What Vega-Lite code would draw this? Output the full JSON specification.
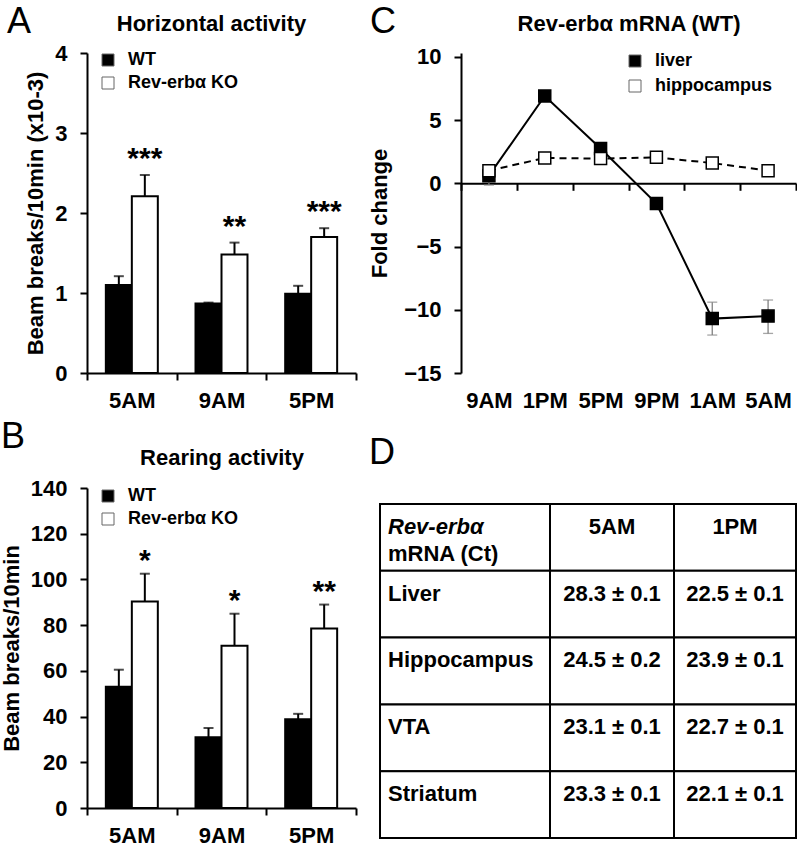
{
  "$schema": "https://vega.github.io/schema/vega-lite/v6.json",
  "background": "white",
  "padding": {"left": 0, "top": 4, "right": 0, "bottom": 0},
  "bounds": "flush",
  "spacing": 435,
  "resolve": {"scale": {"fill": "independent"}, "legend": {"fill": "independent"}},
  "datasets": {
    "tbl": [
      {"row": "h", "c1": "Rev-erbα", "c1b": "mRNA (Ct)", "am": "5AM", "pm": "1PM"},
      {"row": "Liver", "c1": "Liver", "am": "28.3 ± 0.1", "pm": "22.5 ± 0.1"},
      {"row": "Hippocampus", "c1": "Hippocampus", "am": "24.5 ± 0.2", "pm": "23.9 ± 0.1"},
      {"row": "VTA", "c1": "VTA", "am": "23.1 ± 0.1", "pm": "22.7 ± 0.1"},
      {"row": "Striatum", "c1": "Striatum", "am": "23.3 ± 0.1", "pm": "22.1 ± 0.1"}
    ]
  },
  "vconcat": [
    {
      "bounds": "flush",
      "spacing": 105,
      "resolve": {"scale": {"fill": "independent"}, "legend": {"fill": "independent"}},
      "hconcat": [
        {
          "width": 269,
          "height": 320,
          "title": {"text": "A", "frame": "group", "dx": -80, "dy": 33},
          "data": {"values": [
            {"t": "5AM", "g": "WT", "v": 1.10, "hi": 1.21},
            {"t": "5AM", "g": "Rev-erbα KO", "v": 2.21, "hi": 2.475, "s": "***"},
            {"t": "9AM", "g": "WT", "v": 0.87, "hi": 0.88},
            {"t": "9AM", "g": "Rev-erbα KO", "v": 1.48, "hi": 1.63, "s": "**"},
            {"t": "5PM", "g": "WT", "v": 0.99, "hi": 1.09},
            {"t": "5PM", "g": "Rev-erbα KO", "v": 1.70, "hi": 1.81, "s": "***"}
          ]},
          "layer": [
            {
              "mark": {"type": "bar", "stroke": "black", "strokeWidth": 2},
              "encoding": {
                "x": {"field": "t", "type": "nominal", "sort": ["5AM", "9AM", "5PM"], "scale": {"type": "band", "paddingInner": 0, "paddingOuter": 0}, "axis": {"title": null}},
                "xOffset": {"field": "g", "type": "nominal", "sort": ["WT", "Rev-erbα KO"], "scale": {"paddingInner": 0, "paddingOuter": 0.725}},
                "y": {"field": "v", "type": "quantitative", "scale": {"domain": [0, 4], "nice": false}, "axis": {"values": [0, 1, 2, 3, 4], "format": "d", "title": "Beam breaks/10min (x10-3)"}},
                "fill": {"field": "g", "type": "nominal", "sort": ["WT", "Rev-erbα KO"], "scale": {"domain": ["WT", "Rev-erbα KO"], "range": ["black", "white"]}, "legend": {"title": null, "legendX": 12, "legendY": -2}}
              }
            },
            {
              "mark": {"type": "rule", "color": "black", "strokeWidth": 2},
              "encoding": {
                "x": {"field": "t", "type": "nominal", "sort": ["5AM", "9AM", "5PM"], "axis": null},
                "xOffset": {"field": "g", "type": "nominal", "sort": ["WT", "Rev-erbα KO"]},
                "y": {"field": "v", "type": "quantitative"},
                "y2": {"field": "hi"}
              }
            },
            {
              "mark": {"type": "tick", "color": "black", "size": 10, "thickness": 2},
              "encoding": {
                "x": {"field": "t", "type": "nominal", "sort": ["5AM", "9AM", "5PM"], "axis": null},
                "xOffset": {"field": "g", "type": "nominal", "sort": ["WT", "Rev-erbα KO"]},
                "y": {"field": "hi", "type": "quantitative"}
              }
            },
            {
              "transform": [{"filter": "datum.s"}],
              "mark": {"type": "text", "fontSize": 30, "fontWeight": "bold", "baseline": "alphabetic", "dy": -7, "color": "black"},
              "encoding": {
                "x": {"field": "t", "type": "nominal", "sort": ["5AM", "9AM", "5PM"], "axis": {"orient": "top", "title": "Horizontal activity", "titleX": 124, "labels": false, "ticks": false, "domain": false, "titlePadding": 18}},
                "xOffset": {"field": "g", "type": "nominal", "sort": ["WT", "Rev-erbα KO"]},
                "y": {"field": "hi", "type": "quantitative"},
                "text": {"field": "s"}
              }
            }
          ],
          "resolve": {"axis": {"x": "independent"}}
        },
        {
          "width": 335,
          "height": 320,
          "title": {"text": "C", "frame": "group", "dx": -91, "dy": 33},
          "data": {"values": [
            {"t": "9AM", "o": 1, "tissue": "liver", "v": 0.6, "lo": -0.15, "hi": 1.35},
            {"t": "1PM", "o": 2, "tissue": "liver", "v": 6.9},
            {"t": "5PM", "o": 3, "tissue": "liver", "v": 2.75},
            {"t": "9PM", "o": 4, "tissue": "liver", "v": -1.6},
            {"t": "1AM", "o": 5, "tissue": "liver", "v": -10.7, "lo": -12.0, "hi": -9.4},
            {"t": "5AM", "o": 6, "tissue": "liver", "v": -10.5, "lo": -11.87, "hi": -9.23},
            {"t": "9AM", "o": 1, "tissue": "hippocampus", "v": 1.0},
            {"t": "1PM", "o": 2, "tissue": "hippocampus", "v": 2.0},
            {"t": "5PM", "o": 3, "tissue": "hippocampus", "v": 1.95},
            {"t": "9PM", "o": 4, "tissue": "hippocampus", "v": 2.05},
            {"t": "1AM", "o": 5, "tissue": "hippocampus", "v": 1.6},
            {"t": "5AM", "o": 6, "tissue": "hippocampus", "v": 1.0}
          ]},
          "layer": [
            {
              "transform": [{"filter": "isValid(datum.lo)"}],
              "mark": {"type": "rule", "color": "#808080", "strokeWidth": 1.3},
              "encoding": {
                "x": {"field": "t", "type": "nominal", "sort": ["9AM", "1PM", "5PM", "9PM", "1AM", "5AM"], "bandPosition": 0.5, "axis": null},
                "y": {"field": "lo", "type": "quantitative"},
                "y2": {"field": "hi"}
              }
            },
            {
              "transform": [{"filter": "isValid(datum.lo)"}],
              "mark": {"type": "tick", "color": "#808080", "size": 10, "thickness": 1.3},
              "encoding": {
                "x": {"field": "t", "type": "nominal", "sort": ["9AM", "1PM", "5PM", "9PM", "1AM", "5AM"], "axis": null},
                "y": {"field": "lo", "type": "quantitative"}
              }
            },
            {
              "transform": [{"filter": "isValid(datum.lo)"}],
              "mark": {"type": "tick", "color": "#808080", "size": 10, "thickness": 1.3},
              "encoding": {
                "x": {"field": "t", "type": "nominal", "sort": ["9AM", "1PM", "5PM", "9PM", "1AM", "5AM"], "axis": null},
                "y": {"field": "hi", "type": "quantitative"}
              }
            },
            {
              "transform": [{"filter": "datum.tissue == 'liver'"}],
              "mark": {"type": "line", "color": "black", "strokeWidth": 2},
              "encoding": {
                "x": {"field": "t", "type": "nominal", "sort": ["9AM", "1PM", "5PM", "9PM", "1AM", "5AM"], "bandPosition": 0.5, "scale": {"type": "band", "paddingInner": 0, "paddingOuter": 0}, "axis": {"title": null, "offset": -189.7, "labelPadding": 200}},
                "y": {"field": "v", "type": "quantitative", "scale": {"domain": [-15, 10.3], "nice": false, "zero": false}, "axis": {"values": [-15, -10, -5, 0, 5, 10], "title": "Fold change", "titlePadding": 12}},
                "order": {"field": "o", "type": "quantitative"}
              }
            },
            {
              "transform": [{"filter": "datum.tissue == 'hippocampus'"}],
              "mark": {"type": "line", "color": "black", "strokeWidth": 2, "strokeDash": [7, 5]},
              "encoding": {
                "x": {"field": "t", "type": "nominal", "sort": ["9AM", "1PM", "5PM", "9PM", "1AM", "5AM"], "bandPosition": 0.5, "axis": null},
                "y": {"field": "v", "type": "quantitative"},
                "order": {"field": "o", "type": "quantitative"}
              }
            },
            {
              "mark": {"type": "point", "shape": "square", "filled": true, "size": 144, "stroke": "black", "strokeWidth": 1.5, "opacity": 1},
              "encoding": {
                "x": {"field": "t", "type": "nominal", "sort": ["9AM", "1PM", "5PM", "9PM", "1AM", "5AM"], "bandPosition": 0.5, "axis": {"orient": "top", "title": "Rev-erbα mRNA (WT)", "labels": false, "ticks": false, "domain": false, "titlePadding": 18}},
                "y": {"field": "v", "type": "quantitative"},
                "fill": {"field": "tissue", "type": "nominal", "sort": ["liver", "hippocampus"], "scale": {"domain": ["liver", "hippocampus"], "range": ["black", "white"]}, "legend": {"title": null, "legendX": 165, "legendY": -1, "rowPadding": 7}}
              }
            }
          ],
          "resolve": {"axis": {"x": "independent"}}
        }
      ]
    },
    {
      "bounds": "flush",
      "spacing": 24,
      "resolve": {"scale": {"fill": "independent"}, "legend": {"fill": "independent"}},
      "hconcat": [
        {
          "width": 269,
          "height": 320,
          "title": {"text": "B", "frame": "group", "dx": -86, "dy": 14},
          "data": {"values": [
            {"t": "5AM", "g": "WT", "v": 53.0, "hi": 60.5},
            {"t": "5AM", "g": "Rev-erbα KO", "v": 90.3, "hi": 102.5, "s": "*"},
            {"t": "9AM", "g": "WT", "v": 31.0, "hi": 35.0},
            {"t": "9AM", "g": "Rev-erbα KO", "v": 71.0, "hi": 85.0, "s": "*"},
            {"t": "5PM", "g": "WT", "v": 38.8, "hi": 41.2},
            {"t": "5PM", "g": "Rev-erbα KO", "v": 78.5, "hi": 89.0, "s": "**"}
          ]},
          "layer": [
            {
              "mark": {"type": "bar", "stroke": "black", "strokeWidth": 2},
              "encoding": {
                "x": {"field": "t", "type": "nominal", "sort": ["5AM", "9AM", "5PM"], "scale": {"type": "band", "paddingInner": 0, "paddingOuter": 0}, "axis": {"title": null}},
                "xOffset": {"field": "g", "type": "nominal", "sort": ["WT", "Rev-erbα KO"], "scale": {"paddingInner": 0, "paddingOuter": 0.725}},
                "y": {"field": "v", "type": "quantitative", "scale": {"domain": [0, 140], "nice": false}, "axis": {"values": [0, 20, 40, 60, 80, 100, 120, 140], "title": "Beam breaks/10min"}},
                "fill": {"field": "g", "type": "nominal", "sort": ["WT", "Rev-erbα KO"], "scale": {"domain": ["WT", "Rev-erbα KO"], "range": ["black", "white"]}, "legend": {"title": null, "legendX": 12, "legendY": -1}}
              }
            },
            {
              "mark": {"type": "rule", "color": "black", "strokeWidth": 2},
              "encoding": {
                "x": {"field": "t", "type": "nominal", "sort": ["5AM", "9AM", "5PM"], "axis": null},
                "xOffset": {"field": "g", "type": "nominal", "sort": ["WT", "Rev-erbα KO"]},
                "y": {"field": "v", "type": "quantitative"},
                "y2": {"field": "hi"}
              }
            },
            {
              "mark": {"type": "tick", "color": "black", "size": 10, "thickness": 2},
              "encoding": {
                "x": {"field": "t", "type": "nominal", "sort": ["5AM", "9AM", "5PM"], "axis": null},
                "xOffset": {"field": "g", "type": "nominal", "sort": ["WT", "Rev-erbα KO"]},
                "y": {"field": "hi", "type": "quantitative"}
              }
            },
            {
              "transform": [{"filter": "datum.s"}],
              "mark": {"type": "text", "fontSize": 30, "fontWeight": "bold", "baseline": "alphabetic", "dy": -4, "color": "black"},
              "encoding": {
                "x": {"field": "t", "type": "nominal", "sort": ["5AM", "9AM", "5PM"], "axis": {"orient": "top", "title": "Rearing activity", "labels": false, "ticks": false, "domain": false, "titlePadding": 19}},
                "xOffset": {"field": "g", "type": "nominal", "sort": ["WT", "Rev-erbα KO"]},
                "y": {"field": "hi", "type": "quantitative"},
                "text": {"field": "s"}
              }
            }
          ],
          "resolve": {"axis": {"x": "independent"}}
        },
        {
          "title": {"text": "D", "frame": "group", "dx": -11, "dy": -12},
          "bounds": "flush",
          "spacing": 0,
          "hconcat": [
            {
              "width": 170,
              "height": 350,
              "data": {"name": "tbl"},
              "layer": [
                {
                  "mark": {"type": "rect", "fill": "white", "stroke": "black", "strokeWidth": 2},
                  "encoding": {"y": {"field": "row", "type": "nominal", "scale": {"domain": ["h", "Liver", "Hippocampus", "VTA", "Striatum"], "paddingInner": 0, "paddingOuter": 0.12, "align": 1}, "axis": null}}
                },
                {
                  "transform": [{"filter": "datum.row == 'h'"}],
                  "mark": {"type": "text", "fontSize": 22, "fontWeight": "bold", "fontStyle": "italic", "align": "left", "baseline": "middle", "dx": -77, "color": "black"},
                  "encoding": {"y": {"field": "row", "type": "nominal", "bandPosition": 0.34}, "text": {"field": "c1"}}
                },
                {
                  "transform": [{"filter": "datum.row == 'h'"}],
                  "mark": {"type": "text", "fontSize": 22, "fontWeight": "bold", "align": "left", "baseline": "middle", "dx": -77, "color": "black"},
                  "encoding": {"y": {"field": "row", "type": "nominal", "bandPosition": 0.75}, "text": {"field": "c1b"}}
                },
                {
                  "transform": [{"filter": "datum.row != 'h'"}],
                  "mark": {"type": "text", "fontSize": 22, "fontWeight": "bold", "align": "left", "baseline": "middle", "dx": -77, "color": "black"},
                  "encoding": {"y": {"field": "row", "type": "nominal", "bandPosition": 0.34}, "text": {"field": "c1"}}
                }
              ]
            },
            {
              "width": 124,
              "height": 350,
              "data": {"name": "tbl"},
              "layer": [
                {
                  "mark": {"type": "rect", "fill": "white", "stroke": "black", "strokeWidth": 2},
                  "encoding": {"y": {"field": "row", "type": "nominal", "scale": {"domain": ["h", "Liver", "Hippocampus", "VTA", "Striatum"], "paddingInner": 0, "paddingOuter": 0.12, "align": 1}, "axis": null}}
                },
                {
                  "mark": {"type": "text", "fontSize": 22, "fontWeight": "bold", "align": "center", "baseline": "middle", "color": "black"},
                  "encoding": {"y": {"field": "row", "type": "nominal", "bandPosition": 0.34}, "text": {"field": "am"}}
                }
              ]
            },
            {
              "width": 122,
              "height": 350,
              "data": {"name": "tbl"},
              "layer": [
                {
                  "mark": {"type": "rect", "fill": "white", "stroke": "black", "strokeWidth": 2},
                  "encoding": {"y": {"field": "row", "type": "nominal", "scale": {"domain": ["h", "Liver", "Hippocampus", "VTA", "Striatum"], "paddingInner": 0, "paddingOuter": 0.12, "align": 1}, "axis": null}}
                },
                {
                  "mark": {"type": "text", "fontSize": 22, "fontWeight": "bold", "align": "center", "baseline": "middle", "color": "black"},
                  "encoding": {"y": {"field": "row", "type": "nominal", "bandPosition": 0.34}, "text": {"field": "pm"}}
                }
              ]
            }
          ]
        }
      ]
    }
  ],
  "config": {
    "font": "Liberation Sans",
    "view": {"stroke": null},
    "axis": {"domainColor": "black", "domainWidth": 2, "tickColor": "black", "tickWidth": 2, "tickSize": 7, "labelColor": "black", "labelFont": "Liberation Sans", "labelFontSize": 22, "labelFontWeight": "bold", "titleColor": "black", "titleFont": "Liberation Sans", "titleFontSize": 22, "titleFontWeight": "bold", "grid": false},
    "axisY": {"labelPadding": 13, "titlePadding": 7},
    "axisX": {"labelPadding": 10, "labelAngle": 0, "tickBand": "extent"},
    "legend": {"orient": "none", "symbolType": "square", "symbolSize": 144, "labelFont": "Liberation Sans", "labelFontSize": 18, "labelFontWeight": "bold", "labelColor": "black", "symbolStrokeColor": "#666", "symbolStrokeWidth": 1, "rowPadding": 5, "labelOffset": 11, "padding": 0},
    "title": {"anchor": "start", "font": "Liberation Sans", "fontSize": 36, "fontWeight": "normal", "color": "black", "offset": 0}
  }
}
